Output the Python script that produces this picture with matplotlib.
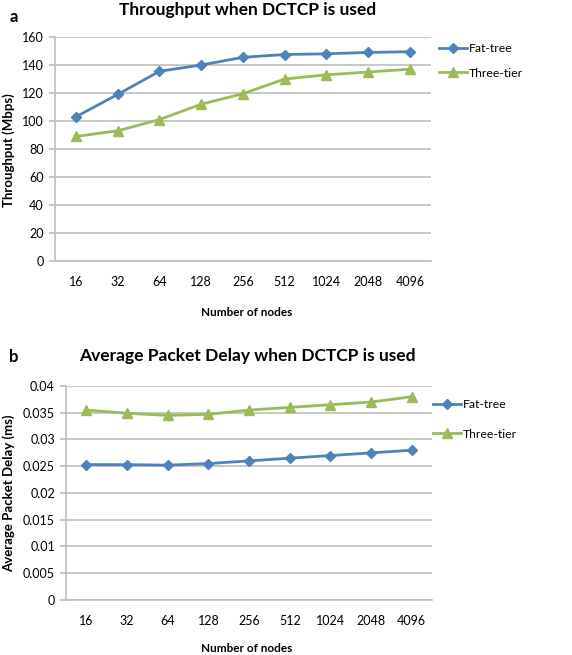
import numpy as np
import matplotlib
matplotlib.use('Agg')
import matplotlib.pyplot as plt

plt.rcParams['font.family'] = ['Lato', 'DejaVu Sans']

nodes = ['16', '32', '64', '128', '256', '512', '1024', '2048', '4096']
thr_fat = [103, 119, 135.5, 140, 145.5, 147.5, 148, 149, 149.5]
thr_three = [89, 93, 101, 112, 119.5, 130, 133, 135, 137]
delay_fat = [0.0253, 0.0253, 0.0252, 0.0255, 0.026, 0.0265, 0.027, 0.0275, 0.028]
delay_three = [0.0355, 0.0349, 0.0345, 0.0347, 0.0355, 0.036, 0.0365, 0.037, 0.038]

blue = '#4F81BD'
green = '#9BBB59'
grid = '#BEBEBE'

fig = plt.figure(figsize=(5.72, 6.55), dpi=100)

def style(ax, yticks, ylim, ylabel, title, tag, tagy, titley, xlaby):
    x = np.arange(len(nodes))
    ax.set_xlim(-0.5, len(nodes) - 0.5)
    ax.set_ylim(*ylim)
    ax.set_yticks(yticks)
    ax.set_xticks(x)
    ax.set_xticklabels(nodes)
    ax.yaxis.grid(True, color=grid, lw=1.2)
    ax.set_axisbelow(True)
    for s in ['top', 'right']:
        ax.spines[s].set_visible(False)
    for s in ['left', 'bottom']:
        ax.spines[s].set_color(grid)
        ax.spines[s].set_linewidth(1.2)
    ax.tick_params(axis='y', length=4, color=grid, width=1.2, pad=4, labelsize=9)
    ax.tick_params(axis='x', length=0, pad=11, labelsize=9)
    ax.set_ylabel(ylabel, fontsize=9.5, fontweight='bold')
    ax.yaxis.label.set_va('center')
    ax.set_xlabel('Number of nodes', fontsize=8.5, fontweight='bold')
    ax.xaxis.set_label_coords(0.432, 1 - xlaby / 655, transform=fig.transFigure)
    ax.xaxis.label.set_va('center')
    fig.text(0.432, titley, title, fontsize=12.5, fontweight='bold', ha='center', va='center')
    fig.text(0.024, tagy, tag, fontsize=12, fontweight='bold', ha='center', va='center')

# panel a
ax1 = fig.add_axes([0.0962, 0.6015, 0.657, 0.342])
x = np.arange(len(nodes))
ax1.plot(x, thr_fat, color=blue, lw=2, marker='D', ms=5.5, label='Fat-tree')
ax1.plot(x, thr_three, color=green, lw=2, marker='^', ms=7.5, label='Three-tier')
style(ax1, [0, 20, 40, 60, 80, 100, 120, 140, 160], (0, 160), 'Throughput (Mbps)',
      'Throughput when DCTCP is used', 'a', 1 - 17 / 655, 1 - 10 / 655, 312)
ax1.yaxis.set_label_coords(9 / 572, 1 - 150 / 655, transform=fig.transFigure)
ax1.legend(loc='upper left', bbox_to_anchor=(1.0, 1.01), frameon=False, fontsize=8.8,
           handlelength=2.3, handletextpad=0.1, labelspacing=1.1, borderaxespad=0.3)

# panel b
ax2 = fig.add_axes([0.1154, 0.084, 0.640, 0.3267])
ax2.plot(x, delay_fat, color=blue, lw=2, marker='D', ms=5.5, label='Fat-tree')
ax2.plot(x, delay_three, color=green, lw=2, marker='^', ms=7.5, label='Three-tier')
style(ax2, [0, 0.005, 0.01, 0.015, 0.02, 0.025, 0.03, 0.035, 0.04], (0, 0.04),
      'Average Packet Delay (ms)', 'Average Packet Delay when DCTCP is used', 'b',
      1 - 357 / 655, 1 - 356 / 655, 648)
ax2.yaxis.set_label_coords(9 / 572, 1 - 493 / 655, transform=fig.transFigure)
ax2.set_yticklabels(['0', '0.005', '0.01', '0.015', '0.02', '0.025', '0.03', '0.035', '0.04'])
ax2.legend(loc='upper left', bbox_to_anchor=(0.98, 0.98), frameon=False, fontsize=8.8,
           handlelength=2.3, handletextpad=0.1, labelspacing=1.55, borderaxespad=0.3)

fig.savefig('out.png', dpi=100)
